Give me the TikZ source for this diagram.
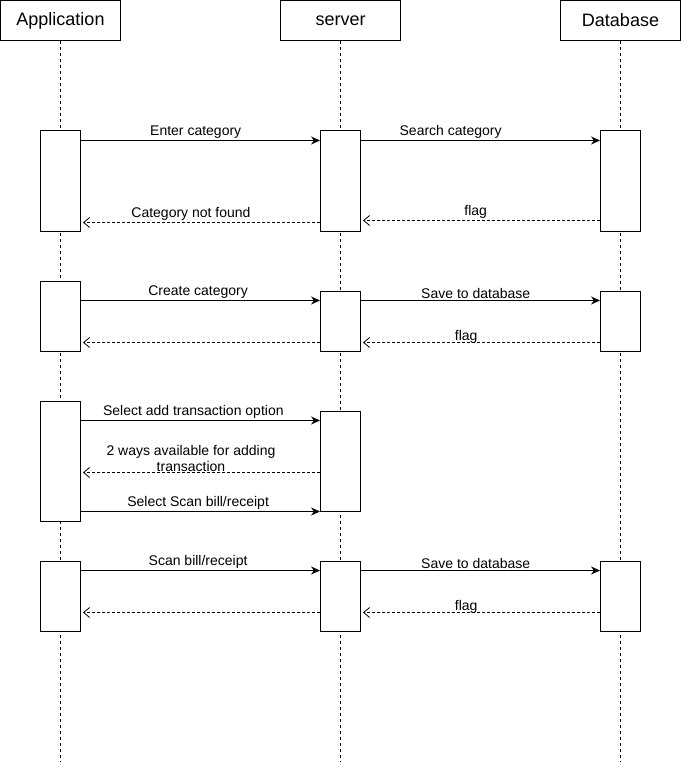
\documentclass[tikz,border=0pt]{standalone}
\usepackage{fontspec}
\setmainfont{Liberation Sans}
\usetikzlibrary{arrows.meta}

\begin{document}
\begin{tikzpicture}[x=1pt,y=-1pt,line width=1pt,
  head/.style={draw,minimum width=120pt,minimum height=40pt,inner sep=0pt,font=\fontsize{18}{21}\selectfont},
  act/.style={draw,fill=white,minimum width=40pt,inner sep=0pt,anchor=north},
  life/.style={line width=0.8pt,dash pattern=on 3pt off 3pt},
  call/.style={-{Stealth[length=9pt,width=8pt]}},
  back/.style={line width=0.8pt,dash pattern=on 3pt off 2pt,-{Straight Barb[length=6pt,width=10pt]},shorten >=2pt},
  lbl/.style={above,inner sep=1.5pt,font=\fontsize{14}{16}\selectfont}]
\useasboundingbox (0,0) rectangle (681,762);

\node[head] (app) at (60.5,20.5) {Application};
\node[head] (srv) at (340.5,20.5) {server};
\node[head] (db) at (620.5,20.5) {Database};

\coordinate (appEnd) at (60.5,762);
\coordinate (srvEnd) at (340.5,762);
\coordinate (dbEnd) at (620.5,762);
\draw[life] (app.south) -- (appEnd);
\draw[life] (srv.south) -- (srvEnd);
\draw[life] (db.south) -- (dbEnd);

% category search
\node[act,minimum height=100pt] (a1) at (60.5,130.5) {};
\node[act,minimum height=100pt] (s1) at (340.5,130.5) {};
\node[act,minimum height=100pt] (d1) at (620.5,130.5) {};
\draw[call] ([yshift=-10pt]a1.north east) -- node[lbl,pos=.48] {Enter category} ([yshift=-10pt]s1.north west);
\draw[call] ([yshift=-10pt]s1.north east) -- node[lbl,pos=.375] {Search category} ([yshift=-10pt]d1.north west);
\draw[back] ([yshift=11pt]d1.south west) -- node[lbl,pos=.52] {flag} ([yshift=11pt]s1.south east);
\draw[back] ([yshift=9pt]s1.south west) -- node[lbl,pos=.54] {Category not found} ([yshift=9pt]a1.south east);

% create category
\node[act,minimum height=70pt] (a2) at (60.5,280.5) {};
\node[act,minimum height=60pt] (s2) at (340.5,290.5) {};
\node[act,minimum height=60pt] (d2) at (620.5,290.5) {};
\draw[call] ([yshift=-20pt]a2.north east) -- node[lbl,pos=.49] {Create category} ([yshift=-10pt]s2.north west);
\draw[call] ([yshift=-10pt]s2.north east) -- node[lbl,pos=.48] {Save to database} ([yshift=-10pt]d2.north west);
\draw[back] ([yshift=9pt]d2.south west) -- node[lbl,pos=.56,yshift=-3pt] {flag} ([yshift=9pt]s2.south east);
\draw[back] ([yshift=9pt]s2.south west) -- ([yshift=9pt]a2.south east);

% add transaction
\node[act,minimum height=120pt] (a3) at (60.5,400.5) {};
\node[act,minimum height=100pt] (s3) at (340.5,410.5) {};
\draw[call] ([yshift=-20pt]a3.north east) -- node[lbl,pos=.47] {Select add transaction option} ([yshift=-10pt]s3.north west);
\draw[back] ([yshift=39pt]s3.south west) -- node[lbl,pos=.54,align=center,yshift=-1pt] {2 ways available for adding\\transaction} ([yshift=49pt]a3.south east);
\draw[call] ([yshift=10pt]a3.south east) -- node[lbl,pos=.49] {Select Scan bill/receipt} (s3.south west);

% scan bill
\node[act,minimum height=70pt] (a4) at (60.5,560.5) {};
\node[act,minimum height=70pt] (s4) at (340.5,560.5) {};
\node[act,minimum height=70pt] (d4) at (620.5,560.5) {};
\draw[call] ([yshift=-10pt]a4.north east) -- node[lbl,pos=.49] {Scan bill/receipt} ([yshift=-10pt]s4.north west);
\draw[call] ([yshift=-10pt]s4.north east) -- node[lbl,pos=.48] {Save to database} ([yshift=-10pt]d4.north west);
\draw[back] ([yshift=19pt]d4.south west) -- node[lbl,pos=.56,yshift=-3pt] {flag} ([yshift=19pt]s4.south east);
\draw[back] ([yshift=19pt]s4.south west) -- ([yshift=19pt]a4.south east);

\end{tikzpicture}
\end{document}
